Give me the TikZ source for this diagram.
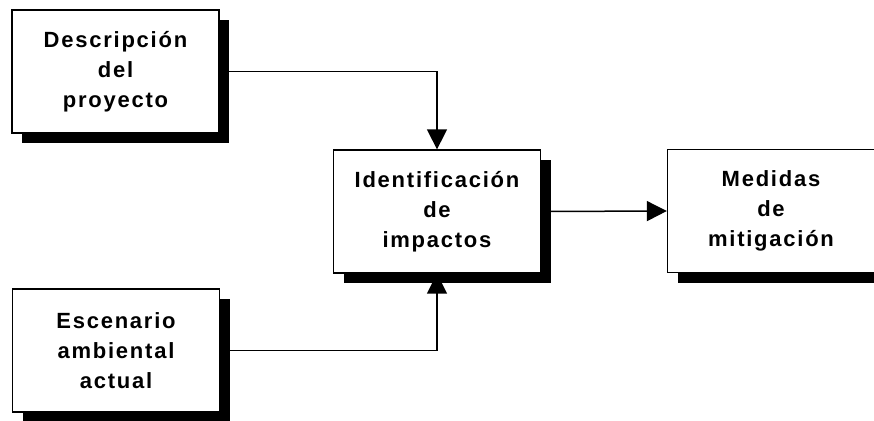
\documentclass[tikz,border=0pt]{standalone}
\usepackage{fontspec}
\newfontfamily\boxfont{Liberation Sans}[LetterSpace=8]
\usetikzlibrary{arrows.meta,shadows}
\pgfdeclarelayer{bg}
\pgfsetlayers{bg,main}
\begin{document}
\begin{tikzpicture}[x=1pt,y=-1pt,
  box/.style={draw=black, line width=1.3pt, fill=white,
    minimum width=207pt, minimum height=123pt, inner sep=0pt, align=center,
    font=\boxfont\bfseries\fontsize{22}{30}\selectfont,
    drop shadow={shadow xshift=10pt, shadow yshift=-10pt, fill=black, opacity=1}},
  arr/.style={-{Triangle[length=20pt,width=20pt]}, line width=1.5pt}]
\clip (0,0) rectangle (874,420);
\node[box] (b1) at (115.5,71.5) {Descripción\\del\\proyecto};
\node[box] (b2) at (437,211.5) {Identificación\\de\\impactos};
\node[box] (b3) at (116,350.5) {Escenario\\ambiental\\actual};
\node[box] (b4) at (771,211) {Medidas\\de\\mitigación};
\begin{pgfonlayer}{bg}
\draw[arr] (b1.east) -| (b2.north);
\draw[arr] (b3.east) -| (b2.south);
\draw[arr] (b2.east) -- (b4.west);
\end{pgfonlayer}
\end{tikzpicture}
\end{document}
